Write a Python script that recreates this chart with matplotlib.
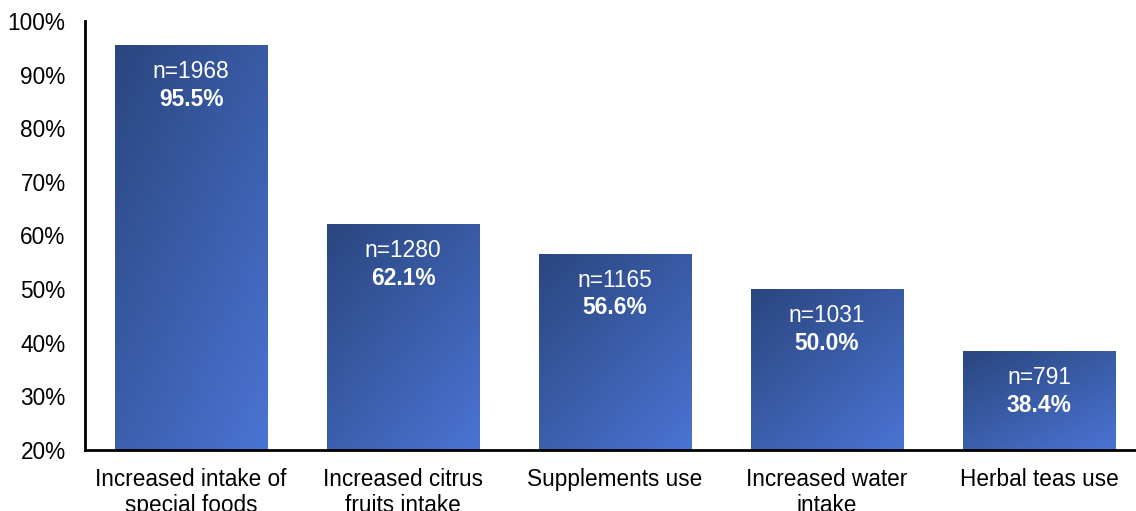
import matplotlib
matplotlib.use("Agg")
import matplotlib.pyplot as plt
import numpy as np
from matplotlib.colors import LinearSegmentedColormap
from matplotlib.ticker import FuncFormatter

categories = ["Increased intake of\nspecial foods", "Increased citrus\nfruits intake",
              "Supplements use", "Increased water\nintake", "Herbal teas use"]
values = [95.5, 62.1, 56.6, 50.0, 38.4]
counts = [1968, 1280, 1165, 1031, 791]
yticks = [20, 30, 40, 50, 60, 70, 80, 90, 100]

plt.rcParams['font.family'] = ['Liberation Sans', 'DejaVu Sans']

W, H = 1136, 511
fig = plt.figure(figsize=(W / 100, H / 100), dpi=100)
ax = fig.add_axes([85 / W, (H - 450) / H, (1145 - 85) / W, (450 - 21) / H])

cmap = LinearSegmentedColormap.from_list("g", ["#2B467F", "#4A74D3"])
x = np.arange(len(categories))
width = 0.72
bars = ax.bar(x, values, width=width, bottom=0, color="none", edgecolor="none")
ax.set_xlim(-0.5, len(categories) - 0.5)
ax.set_ylim(20, 100)

gx, gy = np.meshgrid(np.linspace(0, 1, 64), np.linspace(0, 1, 64))
grad = (gx * 0.45 + gy * 0.55)
for b, v, n in zip(bars, values, counts):
    x0 = b.get_x()
    x1 = x0 + b.get_width()
    im = ax.imshow(grad, cmap=cmap, extent=[x0, x1, 20, v], origin="upper",
                   aspect="auto", zorder=1, interpolation="bicubic")
    im.set_clip_path(b)
    cx = x0 + b.get_width() / 2
    ax.annotate(f"n={n}", (cx, v), xytext=(0, -19), textcoords="offset points",
                ha="center", va="center", color="white", fontsize=16.4, zorder=3)
    ax.annotate(f"{v:.1f}%", (cx, v), xytext=(0, -39), textcoords="offset points",
                ha="center", va="center", color="white", fontsize=16.4,
                fontweight="bold", zorder=3)

ax.set_xticks(x)
ax.set_xticklabels(categories, fontsize=16.3, linespacing=1.15)
ax.set_yticks(yticks)
ax.yaxis.set_major_formatter(FuncFormatter(lambda v, p: f"{v:.0f}%"))
ax.tick_params(axis="y", length=0, pad=14, labelsize=16.3)
ax.tick_params(axis="x", length=0, pad=13)
for s in ["top", "right"]:
    ax.spines[s].set_visible(False)
for s in ["left", "bottom"]:
    ax.spines[s].set_linewidth(2)
    ax.spines[s].set_color("black")

fig.savefig("out.png", dpi=100)
